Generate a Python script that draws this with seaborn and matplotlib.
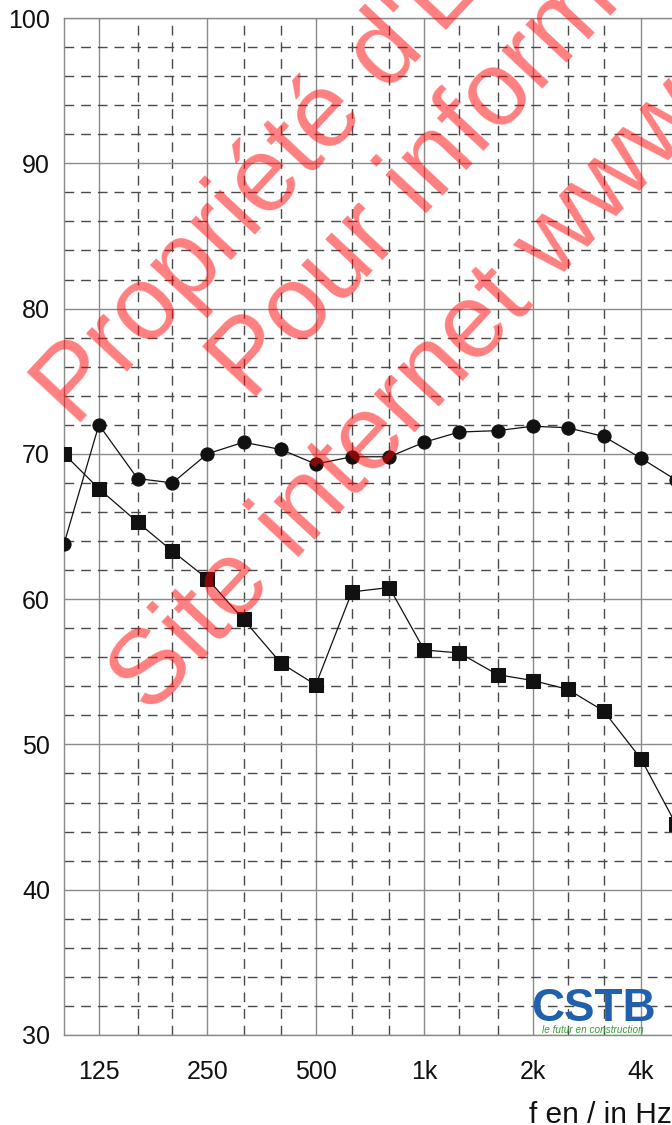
import numpy as np
import pandas as pd
import matplotlib
matplotlib.use("Agg")
import matplotlib.pyplot as plt
import seaborn as sns

# ---- data ----
freqs = [100, 125, 160, 200, 250, 315, 400, 500, 630, 800, 1000, 1250,
         1600, 2000, 2500, 3150, 4000, 5000]
level_circles = [63.8, 72.0, 68.3, 68.0, 70.0, 70.8, 70.3, 69.3, 69.8, 69.8,
                 70.8, 71.5, 71.6, 71.9, 71.8, 71.2, 69.7, 68.2]
level_squares = [70.0, 67.6, 65.3, 63.3, 61.4, 58.6, 55.6, 54.1, 60.5, 60.8,
                 56.5, 56.3, 54.8, 54.4, 53.8, 52.3, 49.0, 44.5]
major_freqs = [125, 250, 500, 1000, 2000, 4000]
major_labels = ["125", "250", "500", "1k", "2k", "4k"]
minor_freqs = [160, 200, 315, 400, 630, 800, 1250, 1600, 2500, 3150, 5000]
y_major = [30, 40, 50, 60, 70, 80, 90, 100]
y_minor = [32, 34, 36, 38, 42, 44, 46, 48, 52, 54, 56, 58, 62, 64, 66, 68,
           72, 74, 76, 78, 82, 84, 86, 88, 92, 94, 96, 98]
xlabel = "f en / in Hz"
watermark = ["Propriété d'E", "Pour information", "Site internet www"]

sns.set_style("white")
plt.rcParams["font.family"] = ["Liberation Sans", "DejaVu Sans"]

W, H = 672, 1125
fig = plt.figure(figsize=(W / 100, H / 100), dpi=100)
left_px, right_px, top_px, bot_px = 64, 676, 18, 1035
ax = fig.add_axes([left_px / W, 1 - bot_px / H, (right_px - left_px) / W,
                   (bot_px - top_px) / H])

df = pd.DataFrame({"f": freqs, "circ": level_circles, "sq": level_squares})
sns.lineplot(data=df, x="f", y="circ", ax=ax, color="#111111", linewidth=0.9,
             marker="o", markersize=9.5, markeredgecolor="#111111", zorder=5)
sns.lineplot(data=df, x="f", y="sq", ax=ax, color="#111111", linewidth=0.9,
             marker="s", markersize=10.5, markeredgecolor="#111111", zorder=5)

ax.set_xscale("log")
ax.set_xlim(100, 5000)
ax.set_ylim(30, 100)
ax.set_xticks(major_freqs)
ax.set_xticklabels(major_labels)
ax.set_xticks(minor_freqs, minor=True)
ax.set_xticklabels([], minor=True)
ax.set_yticks(y_major)
ax.set_yticks(y_minor, minor=True)
ax.tick_params(axis="both", which="both", length=0)
ax.tick_params(axis="x", which="major", labelsize=18, pad=18, colors="#111111")
ax.tick_params(axis="y", which="major", labelsize=18, pad=10, colors="#111111")
ax.set_xlabel("")
ax.set_ylabel("")

ax.grid(which="major", color="#8a8a8a", linewidth=1.0, linestyle="-")
ax.grid(which="minor", color="#4a4a4a", linewidth=1.0, linestyle=(0, (7, 5)))
ax.set_axisbelow(True)
for s in ax.spines.values():
    s.set_color("#8a8a8a")
    s.set_linewidth(1.0)

# x label
fig.text(529 / W, 1 - 1123 / H, xlabel, fontsize=21.5, ha="left",
         va="baseline", color="#111111")

# CSTB logo
fig.text(593 / W, 1 - 1021 / H, "CSTB", fontsize=33, fontweight="heavy",
         color="#2060ad", ha="center", va="baseline", zorder=10)
fig.text(593 / W, 1 - 1033 / H, "le futur en construction", fontsize=7.2,
         style="italic", color="#3a9a3a", ha="center", va="baseline", zorder=10)

# watermark
angle = 47
starts = [(75, 428), (250, 402), (150, 716)]
for txt, (px, py) in zip(watermark, starts):
    fig.text(px / W, 1 - py / H, txt, fontsize=76, color="red", alpha=0.5,
             rotation=angle, rotation_mode="anchor", ha="left",
             va="baseline", zorder=20)

fig.savefig("out.png", dpi=100)
